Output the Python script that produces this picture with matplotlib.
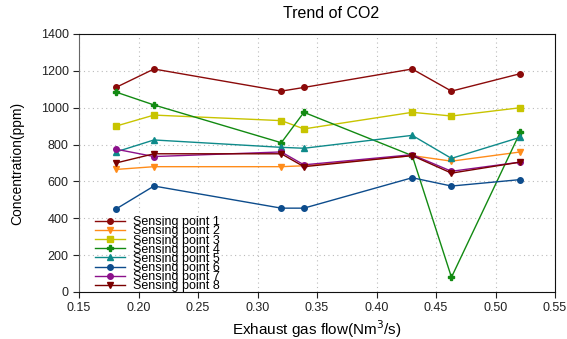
import matplotlib
matplotlib.use("Agg")
import matplotlib.pyplot as plt
from matplotlib.ticker import FormatStrFormatter

plt.rcParams['font.family'] = ['Liberation Sans', 'DejaVu Sans']

flow = [0.181, 0.213, 0.320, 0.339, 0.430, 0.463, 0.521]
labels = ["Sensing point 1", "Sensing point 2", "Sensing point 3", "Sensing point 4",
          "Sensing point 5", "Sensing point 6", "Sensing point 7", "Sensing point 8"]
sp1 = [1110, 1210, 1090, 1110, 1210, 1090, 1185]
sp2 = [665, 680, 680, 685, 740, 710, 760]
sp3 = [900, 960, 930, 885, 975, 955, 1000]
sp4 = [1085, 1015, 810, 975, 740, 80, 870]
sp5 = [760, 825, 785, 780, 850, 725, 840]
sp6 = [450, 575, 455, 455, 620, 575, 610]
sp7 = [775, 735, 760, 690, 745, 655, 705]
sp8 = [700, 750, 750, 680, 740, 645, 705]
series = [sp1, sp2, sp3, sp4, sp5, sp6, sp7, sp8]
colors = ["#8B0A0A", "#FF8C1A", "#C8C400", "#128A12", "#0E8A8A", "#0D4C8C", "#8B108B", "#7A0000"]
markers = ["o", "v", "s", "P", "^", "o", "o", "v"]
xticks = [0.15, 0.20, 0.25, 0.30, 0.35, 0.40, 0.45, 0.50, 0.55]
yticks = [0, 200, 400, 600, 800, 1000, 1200, 1400]

fig = plt.figure(figsize=(5.67, 3.39), dpi=100)
ax = fig.add_axes([79/567, 1-292/339, (555-79)/567, (292-34)/339])

for vals, lab, c, m in zip(series, labels, colors, markers):
    ax.plot(flow, vals, color=c, marker=m, markersize=4, linewidth=1, label=lab)

ax.set_xlim(0.15, 0.55)
ax.set_ylim(0, 1400)
ax.set_xticks(xticks)
ax.set_yticks(yticks)
ax.xaxis.set_major_formatter(FormatStrFormatter('%.2f'))
ax.grid(True, linestyle=(0, (1, 3)), color='#bbbbbb', linewidth=0.8)
ax.tick_params(direction='out', length=4, labelsize=9, colors='#222222')
ax.tick_params(axis='x', pad=3)
for s in ['top', 'right', 'bottom']:
    ax.spines[s].set_color('#111111')
ax.spines['left'].set_color('#666666')

ax.set_xlabel("Exhaust gas flow(Nm$^3$/s)", fontsize=11, labelpad=3)
ax.set_ylabel("Concentration(ppm)", fontsize=10, labelpad=12)
fig.text(331/567, 1-14/339, "Trend of CO2", ha='center', va='center', fontsize=11.5)

leg = ax.legend(loc='lower left', bbox_to_anchor=(0.02, -0.025), frameon=False, fontsize=9,
                labelspacing=-0.23, handlelength=2.4, handletextpad=0.65, borderaxespad=0.1)

fig.savefig("out.png", dpi=100)
